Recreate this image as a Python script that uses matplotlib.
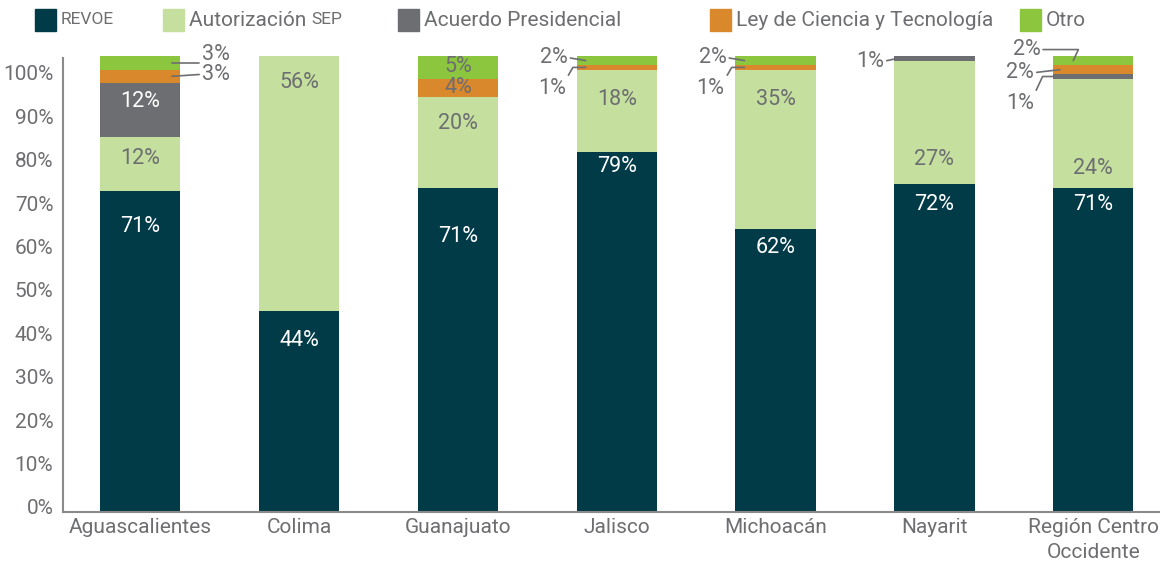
import numpy as np
import matplotlib
matplotlib.use('Agg')
import matplotlib.pyplot as plt
from matplotlib.patches import Rectangle

plt.rcParams['font.family'] = ['Roboto', 'DejaVu Sans']

states = ['Aguascalientes', 'Colima', 'Guanajuato', 'Jalisco', 'Michoacán',
          'Nayarit', 'Región Centro\nOccidente']
series = ['REVOE', 'Autorización SEP', 'Acuerdo Presidencial',
          'Ley de Ciencia y Tecnología', 'Otro']
revoe = [71, 44, 71, 79, 62, 72, 71]
autorizacion_sep = [12, 56, 20, 18, 35, 27, 24]
acuerdo = [12, 0, 0, 0, 0, 1, 1]
ley_ciencia = [3, 0, 4, 1, 1, 0, 2]
otro = [3, 0, 5, 2, 2, 0, 2]
y_labels = ['0%', '10%', '20%', '30%', '40%', '50%', '60%', '70%', '80%', '90%', '100%']

# where the in-bar labels sit (axis units, as placed in the original)
revoe_label_y = [62.5, 37.7, 60.5, 75.7, 57.9, 67.5, 67.5]
sep_label_y = [77.6, 94.1, 85.1, 90.4, 90.4, 77.2, 75.4]

colors = ['#023b48', '#c5df9e', '#6d6e71', '#d9882b', '#8cc63f']
text_gray = '#6d6e71'

data = np.array([revoe, autorizacion_sep, acuerdo, ley_ciencia, otro], dtype=float)
# 100% stacked: each bar scaled to its total
shares = data / data.sum(axis=0) * 100

fig = plt.figure(figsize=(11.6, 5.62), dpi=100)
ax = fig.add_axes([63 / 1160, 50 / 562, 1 - 63 / 1160, 456 / 562])

x = np.arange(len(states))
bottom = np.zeros(len(states))
mids = []
for k in range(len(series)):
    ax.bar(x, shares[k], 0.505, bottom=bottom, color=colors[k], linewidth=0)
    mids.append(bottom + shares[k] / 2)
    bottom = bottom + shares[k]
mids = np.array(mids)

fs = 15.5
for i in range(len(states)):
    ax.text(x[i], revoe_label_y[i], f'{revoe[i]}%', ha='center', va='center',
            color='white', fontsize=fs)
    ax.text(x[i], sep_label_y[i], f'{autorizacion_sep[i]}%', ha='center', va='center',
            color=text_gray, fontsize=fs)
ax.text(x[0], 90.1, f'{acuerdo[0]}%', ha='center', va='center', color='white', fontsize=fs)
# Guanajuato small segments labelled inside
ax.text(x[2], 97.6, f'{otro[2]}%', ha='center', va='center', color=text_gray, fontsize=fs)
ax.text(x[2], 93.0, f'{ley_ciencia[2]}%', ha='center', va='center', color=text_gray, fontsize=fs)

def leader(k, i, dx, off, ha, relpos, conn):
    ax.annotate(f'{int(data[k, i])}%', xy=(x[i] + dx, mids[k, i]), xytext=off,
                textcoords='offset pixels', ha=ha, va='center', color=text_gray,
                fontsize=fs,
                arrowprops=dict(arrowstyle='-', color=text_gray, lw=1.2,
                                shrinkA=0, shrinkB=0, relpos=relpos,
                                connectionstyle=conn))

# Aguascalientes
leader(4, 0, 0.2, (30, 8), 'left', (0, 0.5), 'angle,angleA=-60,angleB=0,rad=0')
leader(3, 0, 0.2, (30, 2), 'left', (0, 0.5), 'arc3')
# Jalisco and Michoacán
for i in (3, 4):
    leader(4, i, -0.196, (-18, 3), 'right', (1, 0.5), 'arc3')
    leader(3, i, -0.196, (-20, -21), 'right', (1, 0.9), 'angle,angleA=60,angleB=0,rad=0')
# Nayarit
leader(2, 5, -0.23, (-14, -3), 'right', (1, 0.5), 'arc3')
# Región Centro Occidente
leader(4, 6, -0.126, (-33, 11), 'right', (1, 0.5), 'angle,angleA=0,angleB=65,rad=0')
leader(3, 6, -0.21, (-26, -3), 'right', (1, 0.5), 'arc3')
leader(2, 6, -0.21, (-26, -27), 'right', (1, 0.9), 'angle,angleA=65,angleB=0,rad=0')

ax.set_xlim(-0.486, 6.42)
ax.set_ylim(0, 100)
ax.set_yticks(np.linspace(1.1, 96.3, 11))
ax.set_yticklabels(y_labels)
ax.set_xticks(x)
ax.set_xticklabels(states, linespacing=1.45)
ax.tick_params(length=0, labelsize=15, colors=text_gray)
ax.tick_params(axis='x', pad=4)
ax.tick_params(axis='y', pad=7)
for s in ('top', 'right'):
    ax.spines[s].set_visible(False)
for s in ('left', 'bottom'):
    ax.spines[s].set_color('#8a8a8a')
    ax.spines[s].set_linewidth(1.5)
ax.spines['left'].set_bounds(0, 99.5)

# legend drawn across the top
leg_x = [35, 163, 398, 710, 1020]
for k in range(len(series)):
    fig.patches.append(Rectangle((leg_x[k] / 1160, 1 - 31 / 562), 21 / 1160, 22 / 562,
                                 transform=fig.transFigure, color=colors[k]))
    label = series[k]
    tx = (leg_x[k] + 26) / 1160
    if k == 0:
        fig.text(tx, 1 - 20 / 562, label, fontsize=12.5, color=text_gray, va='center')
    elif k == 1:
        t = fig.text(tx, 1 - 20 / 562, 'Autorización ', fontsize=15, color=text_gray, va='center')
        fig.canvas.draw()
        bb = t.get_window_extent()
        fig.text(bb.x1 / 1160, 1 - 20 / 562, 'SEP', fontsize=12.5, color=text_gray, va='center')
    else:
        fig.text(tx, 1 - 20 / 562, label, fontsize=15, color=text_gray, va='center')

fig.savefig('out.png', dpi=100)
